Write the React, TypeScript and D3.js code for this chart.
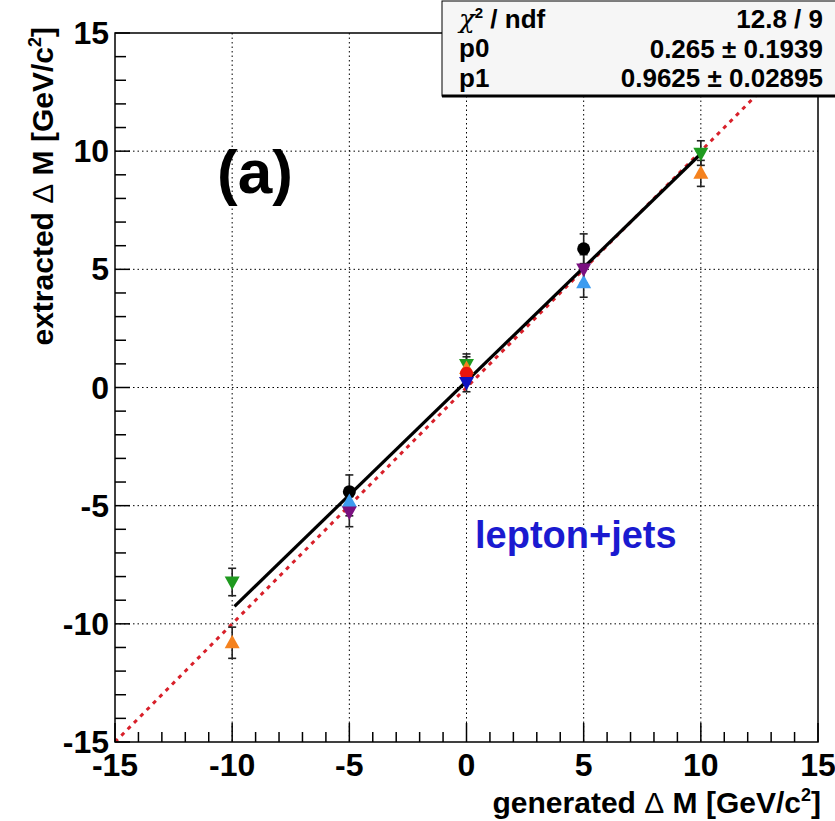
import React from "react";
import * as d3 from "d3";

// Generated mass difference points (GeV/c^2)
const genValues = [-10, -5, 0, 5, 10];

// Extracted values per sample; null where a sample has no point
const seriesNames = ["black", "green", "orange", "lightblue", "purple", "red", "darkblue"];
const blackVals = [null, -4.41, null, 5.87, null];
const blackErrs = [null, 0.71, null, 0.63, null];
const greenVals = [-8.23, null, 0.98, null, 9.92];
const greenErrs = [0.58, null, 0.44, null, 0.52];
const orangeVals = [-10.8, null, 0.8, null, 9.06];
const orangeErrs = [0.66, null, 0.5, null, 0.55];
const lightBlueVals = [null, -4.83, null, 4.43, null];
const lightBlueErrs = [null, 0.6, null, 0.61, null];
const purpleVals = [null, -5.26, null, 5.02, null];
const purpleErrs = [null, 0.63, null, 0.6, null];
const redVals = [null, null, 0.6, null, null];
const redErrs = [null, null, 0.45, null, null];
const darkBlueVals = [null, null, 0.22, null, null];
const darkBlueErrs = [null, null, 0.4, null, null];

// Linear fit parameters
const p0 = 0.265;
const p1 = 0.9625;
const fitRange = [-9.9, 10];

const statLabels = ["χ", "p0", "p1"];
const statValues = ["12.8 / 9", "0.265 ± 0.1939", "0.9625 ± 0.02895"];

const majorTicks = [-15, -10, -5, 0, 5, 10, 15];
const gridTicks = [-10, -5, 0, 5, 10];

type Marker = "circle" | "down" | "up";
const seriesDefs: { name: string; vals: (number | null)[]; errs: (number | null)[]; color: string; marker: Marker }[] = [
  { name: seriesNames[0], vals: blackVals, errs: blackErrs, color: "#000000", marker: "circle" },
  { name: seriesNames[3], vals: lightBlueVals, errs: lightBlueErrs, color: "#3c9cf0", marker: "up" },
  { name: seriesNames[4], vals: purpleVals, errs: purpleErrs, color: "#7a1080", marker: "down" },
  { name: seriesNames[1], vals: greenVals, errs: greenErrs, color: "#1f9a1f", marker: "down" },
  { name: seriesNames[2], vals: orangeVals, errs: orangeErrs, color: "#f5821e", marker: "up" },
  { name: seriesNames[5], vals: redVals, errs: redErrs, color: "#e8140e", marker: "circle" },
  { name: seriesNames[6], vals: darkBlueVals, errs: darkBlueErrs, color: "#1010c0", marker: "down" },
];

const W = 835;
const H = 821;
const left = 115;
const right = 818;
const top = 33;
const bottom = 742;

const FONT = "'Liberation Sans', Arial, Helvetica, sans-serif";

function markerPath(m: Marker, s: number) {
  if (m === "circle") return null;
  const h = s * 0.9;
  if (m === "up") return `M0,${-h * 0.6}L${s / 2},${h * 0.4}L${-s / 2},${h * 0.4}Z`;
  return `M0,${h * 0.6}L${s / 2},${-h * 0.4}L${-s / 2},${-h * 0.4}Z`;
}

export default function App() {
  const x = d3.scaleLinear().domain([-15, 15]).range([left, right]);
  const y = d3.scaleLinear().domain([-15, 15]).range([bottom, top]);
  const minor = d3.range(-15, 16, 1).filter((v) => v % 5 !== 0);

  const fitLine = d3
    .line<number>()
    .x((d) => x(d))
    .y((d) => y(p0 + p1 * d));
  const diagLine = d3
    .line<number>()
    .x((d) => x(d))
    .y((d) => y(d));

  const points: { gx: number; v: number; e: number; color: string; marker: Marker }[] = [];
  seriesDefs.forEach((s) => {
    s.vals.forEach((v, i) => {
      if (v !== null) points.push({ gx: genValues[i], v, e: s.errs[i] ?? 0, color: s.color, marker: s.marker });
    });
  });

  return (
    <svg width={W} height={H} style={{ position: "absolute", left: 0, top: 0, background: "#fff" }} fontFamily={FONT}>
      <rect x={0} y={0} width={W} height={H} fill="#fff" />
      <defs>
        <clipPath id="frame">
          <rect x={left} y={top} width={right - left} height={bottom - top} />
        </clipPath>
      </defs>

      {/* grid */}
      {gridTicks.map((t) => (
        <g key={"g" + t} stroke="#000" strokeWidth={1} strokeDasharray="1.5,3">
          <line x1={x(t)} x2={x(t)} y1={top} y2={bottom} />
          <line x1={left} x2={right} y1={y(t)} y2={y(t)} />
        </g>
      ))}

      {/* y = x reference */}
      <path
        d={diagLine([-15, 15]) ?? ""}
        stroke="#d8202a"
        strokeWidth={3}
        strokeDasharray="4,5"
        fill="none"
        clipPath="url(#frame)"
      />

      {/* fit */}
      <path d={fitLine(fitRange) ?? ""} stroke="#000" strokeWidth={3.2} fill="none" />

      {/* error bars */}
      {points.map((p, i) => (
        <g key={"e" + i} stroke="#222" strokeWidth={1.6}>
          <line x1={x(p.gx)} x2={x(p.gx)} y1={y(p.v + p.e)} y2={y(p.v - p.e)} />
          <line x1={x(p.gx) - 4} x2={x(p.gx) + 4} y1={y(p.v + p.e)} y2={y(p.v + p.e)} />
          <line x1={x(p.gx) - 4} x2={x(p.gx) + 4} y1={y(p.v - p.e)} y2={y(p.v - p.e)} />
        </g>
      ))}

      {/* markers */}
      {points.map((p, i) =>
        p.marker === "circle" ? (
          <circle key={"m" + i} cx={x(p.gx)} cy={y(p.v)} r={6.5} fill={p.color} />
        ) : (
          <path
            key={"m" + i}
            d={markerPath(p.marker, 15) ?? ""}
            transform={`translate(${x(p.gx)},${y(p.v)})`}
            fill={p.color}
          />
        )
      )}

      {/* frame */}
      <rect x={left} y={top} width={right - left} height={bottom - top} fill="none" stroke="#000" strokeWidth={1.5} />

      {/* ticks */}
      {majorTicks.map((t) => (
        <g key={"mt" + t} stroke="#000" strokeWidth={1.5}>
          <line x1={x(t)} x2={x(t)} y1={bottom} y2={bottom - 19} />
          <line x1={left} x2={left + 15} y1={y(t)} y2={y(t)} />
        </g>
      ))}
      {minor.map((t) => (
        <g key={"nt" + t} stroke="#000" strokeWidth={1.5}>
          <line x1={x(t)} x2={x(t)} y1={bottom} y2={bottom - 10} />
          <line x1={left} x2={left + 11} y1={y(t)} y2={y(t)} />
        </g>
      ))}

      {/* tick labels */}
      {majorTicks.map((t) => (
        <text key={"xl" + t} x={x(t)} y={bottom + 34} fontSize={32} fontWeight="bold" textAnchor="middle">
          {t}
        </text>
      ))}
      {majorTicks.map((t) => (
        <text key={"yl" + t} x={left - 6} y={y(t) + 11} fontSize={32} fontWeight="bold" textAnchor="end">
          {t}
        </text>
      ))}

      {/* axis titles */}
      <text x={right + 3} y={813} fontSize={30} fontWeight="bold" textAnchor="end">
        generated <tspan fontWeight="normal">Δ</tspan> M [GeV/c<tspan dy={-12} fontSize={18}>2</tspan>
        <tspan dy={12}>]</tspan>
      </text>
      <text transform="translate(53,27) rotate(-90)" fontSize={30} fontWeight="bold" textAnchor="end">
        extracted <tspan fontWeight="normal">Δ</tspan> M [GeV/c<tspan dy={-12} fontSize={18}>2</tspan>
        <tspan dy={12}>]</tspan>
      </text>

      {/* panel labels */}
      <text x={217} y={193} fontSize={62} fontWeight="bold">
        (a)
      </text>
      <text x={475} y={548} fontSize={38} fontWeight="bold" fill="#1a1ad0">
        lepton+jets
      </text>

      {/* fit statistics box */}
      <rect x={442} y={1} width={400} height={95} fill="#f6f6f6" stroke="#000" strokeWidth={1} />
      <line x1={442} x2={835} y1={96} y2={96} stroke="#000" strokeWidth={3} />
      <text x={459} y={28} fontSize={26} fontWeight="bold">
        <tspan fontWeight="normal" fontFamily="'DejaVu Serif', serif" fontStyle="italic">{statLabels[0]}</tspan>
        <tspan dy={-10} fontSize={15}>2</tspan>
        <tspan dy={10}> / ndf</tspan>
      </text>
      <text x={459} y={57} fontSize={26} fontWeight="bold">
        {statLabels[1]}
      </text>
      <text x={459} y={87} fontSize={26} fontWeight="bold">
        {statLabels[2]}
      </text>
      {statValues.map((v, i) => (
        <text key={"sv" + i} x={823} y={28 + i * 29.5} fontSize={26} fontWeight="bold" textAnchor="end">
          {v}
        </text>
      ))}
    </svg>
  );
}
